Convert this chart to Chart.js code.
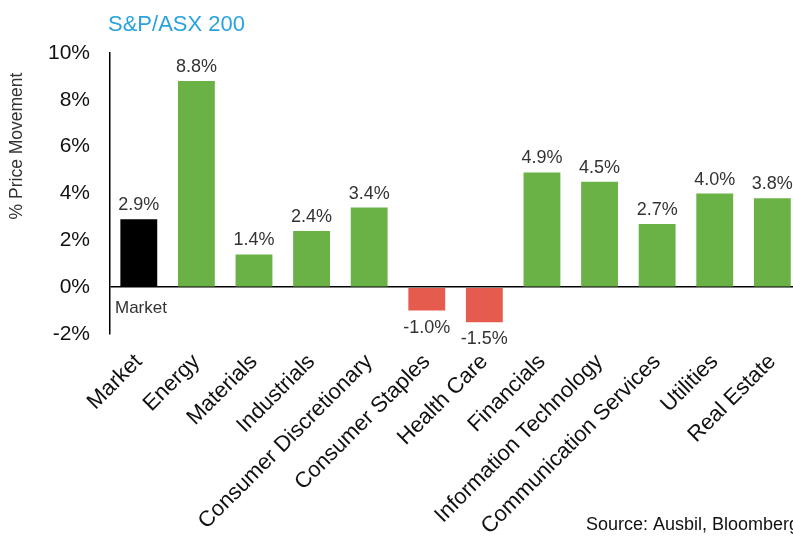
<!DOCTYPE html>
<html>
<head>
<meta charset="utf-8">
<script src="https://cdn.jsdelivr.net/npm/chart.js@4"></script>
<style>
    html, body { margin: 0; padding: 0; background: #fff; overflow: hidden; }
    #chart { display: block; }
</style>
</head>
<body>
<canvas id="chart" width="806" height="538"></canvas>
<script>
const sectors = ['Market', 'Energy', 'Materials', 'Industrials', 'Consumer Discretionary', 'Consumer Staples',
    'Health Care', 'Financials', 'Information Technology', 'Communication Services', 'Utilities', 'Real Estate'];
const moves = [2.9, 8.8, 1.4, 2.4, 3.4, -1.0, -1.5, 4.9, 4.5, 2.7, 4.0, 3.8];
const yTicks = [-2, 0, 2, 4, 6, 8, 10];

const FONT = '"Liberation Sans", Arial, sans-serif';
const GREEN = '#6ab245';
const RED = '#e55c4e';

const barColors = moves.map((v, i) => (i === 0 ? '#000000' : v < 0 ? RED : GREEN));

// value labels, "Market" note, titles and source line
const annotations = {
    id: 'annotations',
    afterDatasetsDraw(chart) {
        const ctx = chart.ctx;
        const meta = chart.getDatasetMeta(0);
        const yScale = chart.scales.y;
        ctx.save();
        ctx.font = '18px ' + FONT;
        ctx.fillStyle = '#333';
        ctx.textAlign = 'center';
        ctx.textBaseline = 'alphabetic';
        meta.data.forEach((bar, i) => {
            const v = moves[i];
            const label = v.toFixed(1) + '%';
            if (v >= 0) {
                ctx.fillText(label, bar.x, bar.y - 9);
            } else {
                ctx.fillText(label, bar.x, bar.y + 22);
            }
        });

        const zeroY = yScale.getPixelForValue(0);
        ctx.font = '17px ' + FONT;
        ctx.textAlign = 'left';
        ctx.fillText('Market', chart.chartArea.left + 5, zeroY + 26);

        ctx.font = '22px ' + FONT;
        ctx.fillStyle = '#29a3dd';
        ctx.fillText('S&P/ASX 200', 108, 31);

        ctx.font = '18px ' + FONT;
        ctx.fillStyle = '#111';
        ctx.fillText('Source: Ausbil, Bloomberg', 586, 530);

        ctx.translate(17, 146);
        ctx.rotate(-Math.PI / 2);
        ctx.textAlign = 'center';
        ctx.textBaseline = 'middle';
        ctx.font = '17.5px ' + FONT;
        ctx.fillStyle = '#333';
        ctx.fillText('% Price Movement', 0, 0);
        ctx.restore();
    },
};

new Chart(document.getElementById('chart'), {
    type: 'bar',
    data: {
        labels: sectors,
        datasets: [{
            data: moves,
            backgroundColor: barColors,
            borderWidth: 0,
            barPercentage: 0.64,
            categoryPercentage: 1.0,
        }],
    },
    options: {
        responsive: false,
        animation: false,
        events: [],
        layout: { padding: { top: 53, left: 0, right: 0, bottom: 0 } },
        plugins: {
            legend: { display: false },
            tooltip: { enabled: false },
            title: { display: false },
        },
        scales: {
            x: {
                grid: { display: false, drawTicks: false },
                border: { display: false },
                ticks: {
                    autoSkip: false,
                    minRotation: 45,
                    maxRotation: 45,
                    padding: 15,
                    color: '#111',
                    font: { family: FONT, size: 22 },
                },
                afterFit(scale) { scale.height = 204; },
            },
            y: {
                min: -2,
                max: 10,
                afterBuildTicks(scale) { scale.ticks = yTicks.map(v => ({ value: v })); },
                grid: {
                    drawTicks: false,
                    color: ctx => (ctx.tick && ctx.tick.value === 0 ? '#000' : 'rgba(0,0,0,0)'),
                    lineWidth: 1.5,
                },
                border: { display: true, color: '#000', width: 1.5 },
                ticks: {
                    padding: 20,
                    color: '#111',
                    font: { family: FONT, size: 21 },
                    callback: v => v + '%',
                },
                afterFit(scale) { scale.width = 110; },
            },
        },
    },
    plugins: [annotations],
});
</script>
</body>
</html>
